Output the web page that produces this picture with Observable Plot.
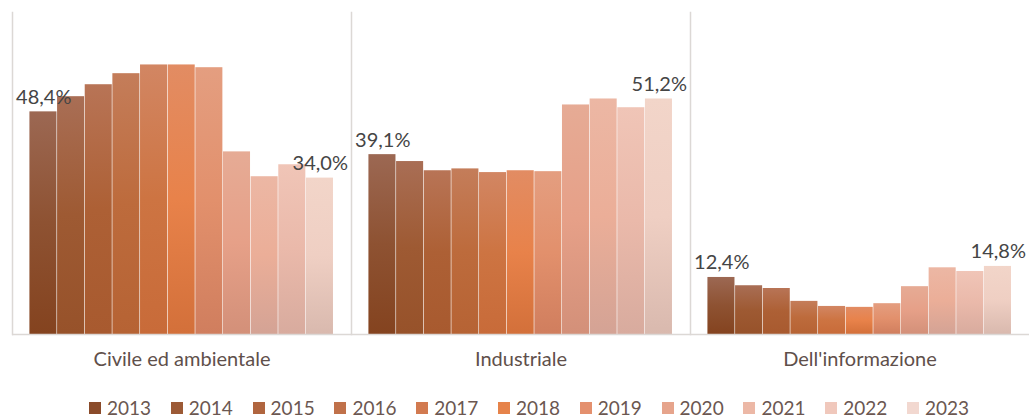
<!DOCTYPE html>
<html>
<head>
<meta charset="utf-8">
<script src="https://cdn.jsdelivr.net/npm/d3@7"></script>
<script src="https://cdn.jsdelivr.net/npm/@observablehq/plot@0.6"></script>
<style>
  html, body { margin: 0; padding: 0; background: #fff; overflow: hidden; }
  #chart { width: 1029px; }
  #legend { width: 1029px; height: 32px; position: relative; font-family: Lato, "Open Sans", sans-serif; font-size: 19px; color: #6b5751; }
  #legend .items { position: absolute; left: 89px; top: 11px; display: flex; }
  #legend .item { width: 81.8px; display: flex; align-items: center; }
  #legend .sw { width: 12px; height: 12px; margin-right: 6px; }
</style>
</head>
<body>
<div id="chart"></div>
<div id="legend"><div class="items"></div></div>
<script>
const categories = ["Civile ed ambientale", "Industriale", "Dell'informazione"];
const years = ["2013","2014","2015","2016","2017","2018","2019","2020","2021","2022","2023"];
const civile      = [48.4, 51.7, 54.3, 56.7, 58.6, 58.6, 58.0, 39.7, 34.3, 36.9, 34.0];
const industriale = [39.1, 37.6, 35.6, 36.0, 35.2, 35.6, 35.4, 49.9, 51.2, 49.3, 51.2];
const informazione= [12.4, 10.6, 10.0,  7.2,  6.1,  5.9,  6.7, 10.4, 14.5, 13.7, 14.8];
const labelledYears = ["2013", "2023"];

// gradient colours per year: top, middle, bottom
const colTop = ["#9c6853","#a96e55","#b87456","#c47d5a","#d28663","#e28c63","#e49e80","#e6ab95","#ecb7a4","#f0c5b7","#f2d5c9"];
const colMid = ["#8e5232","#9e5a33","#ad6035","#bd6b3c","#cd7442","#e8824a","#e2906c","#e6a088","#ebae98","#eab9aa","#efcfc3"];
const colBot = ["#84431f","#97522a","#a85a2f","#b66334","#c86b39","#d3703a","#d07e5e","#d39079","#d4a395","#d8ab9e","#d9b9ae"];
const legendCol = ["#8a4b2a","#9c5a36","#b0653f","#c0714a","#d27a50","#e6834a","#e4906e","#e6a48c","#ecb8a6","#f0c8bc","#f2d8d0"];

const series = [civile, industriale, informazione];
const data = [];
categories.forEach((c, ci) => years.forEach((y, yi) => data.push({category: c, year: y, value: series[ci][yi], yi})));

const fmt = v => d3.format(".1f")(v).replace(".", ",") + "%";

const defsMark = () => {
  const ns = "http://www.w3.org/2000/svg";
  const defs = document.createElementNS(ns, "defs");
  years.forEach((y, i) => {
    const g = document.createElementNS(ns, "linearGradient");
    g.setAttribute("id", "g" + y);
    g.setAttribute("x1", "0"); g.setAttribute("y1", "0");
    g.setAttribute("x2", "0"); g.setAttribute("y2", "1");
    [[0, colTop[i]], [0.5, colMid[i]], [1, colBot[i]]].forEach(([o, c]) => {
      const s = document.createElementNS(ns, "stop");
      s.setAttribute("offset", o);
      s.setAttribute("stop-color", c);
      g.appendChild(s);
    });
    defs.appendChild(g);
  });
  return defs;
};

const chart = Plot.plot({
  width: 1029,
  height: 385,
  marginTop: 12,
  marginBottom: 51,
  marginLeft: 12,
  marginRight: 0,
  style: {fontFamily: "Lato, 'Open Sans', sans-serif"},
  fx: {domain: categories, padding: 0, label: null},
  x: {type: "band", domain: years, paddingInner: 0, paddingOuter: 0.63, round: false, axis: null},
  y: {domain: [0, 70], axis: null},
  color: {type: "identity"},
  marks: [
    defsMark,
    Plot.frame({anchor: "left", stroke: "#dcd8d5", strokeWidth: 1.5}),
    Plot.barY(data, {fx: "category", x: "year", y: "value", fill: d => `url(#g${d.year})`, insetRight: 0.6}),
    Plot.ruleY([0], {stroke: "#dcd8d5", strokeWidth: 1.5}),
    Plot.text(data.filter(d => labelledYears.includes(d.year)), {
      fx: "category", x: "year", y: "value", text: d => fmt(d.value),
      lineAnchor: "bottom", dy: -8, fontSize: 20, fill: "#454545"
    }),
    Plot.axisFx({anchor: "bottom", tickSize: 0, tickPadding: 17, fontSize: 20, fill: "#5f504b", label: null})
  ]
});
document.getElementById("chart").appendChild(chart);

const items = document.querySelector("#legend .items");
years.forEach((y, i) => {
  const it = document.createElement("div");
  it.className = "item";
  const sw = document.createElement("span");
  sw.className = "sw";
  sw.style.background = legendCol[i];
  const t = document.createElement("span");
  t.textContent = y;
  it.appendChild(sw); it.appendChild(t);
  items.appendChild(it);
});
</script>
</body>
</html>
